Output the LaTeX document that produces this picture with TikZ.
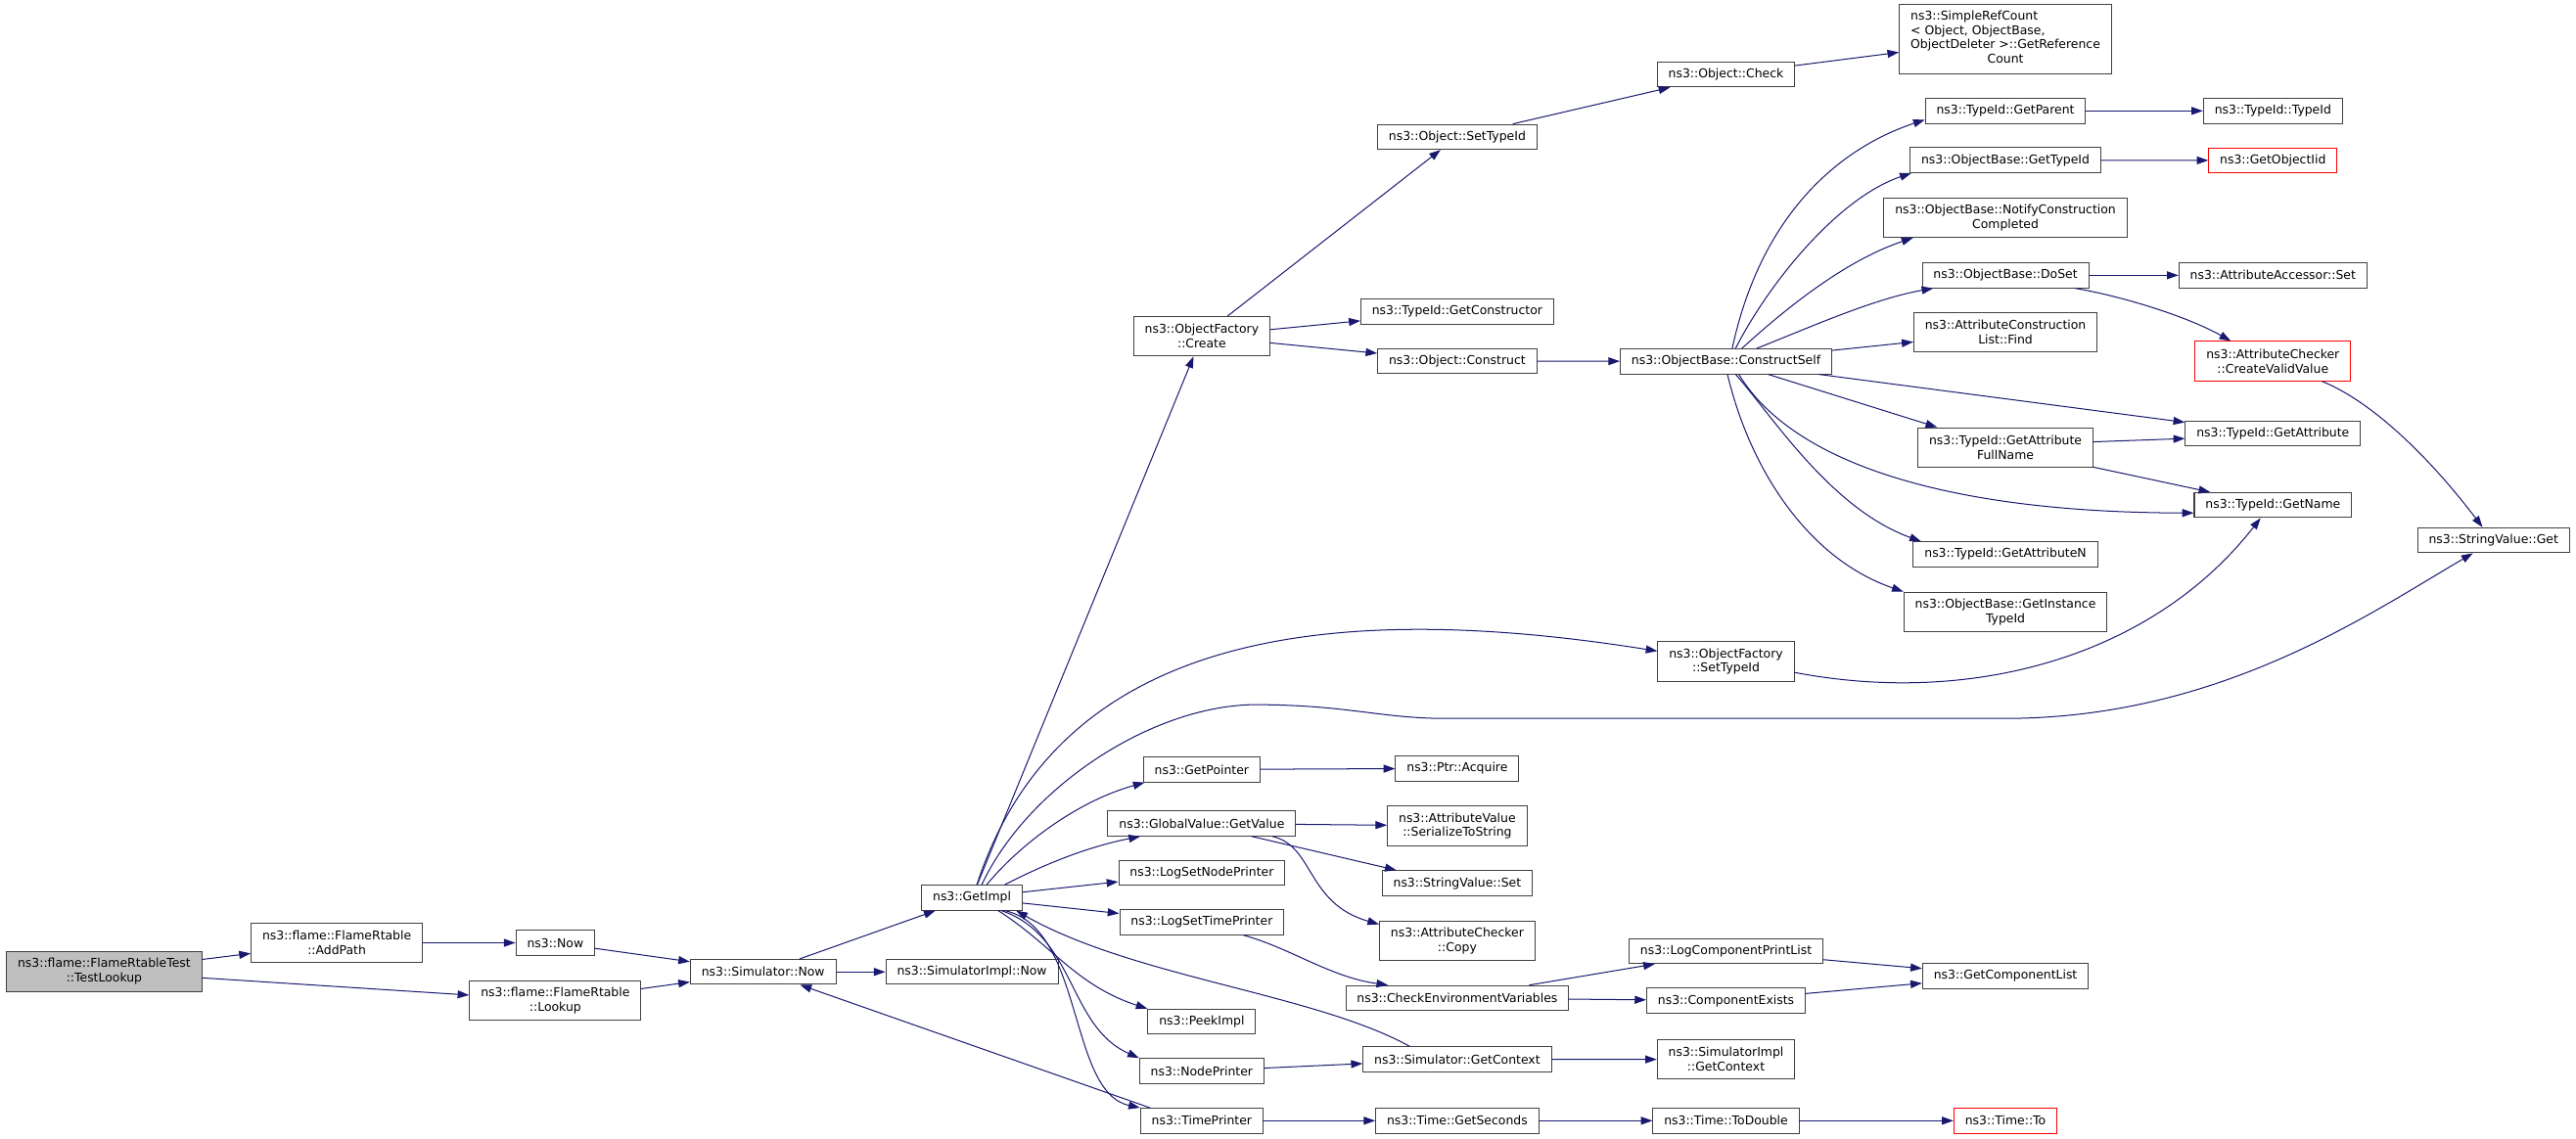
\documentclass[tikz,border=0pt]{standalone}
\usepackage{fontspec}
\setmainfont{DejaVu Sans}
\usetikzlibrary{arrows.meta}
\definecolor{edgeblue}{HTML}{191970}
\definecolor{boxgray}{HTML}{404040}
\definecolor{rootgray}{HTML}{BFBFBF}

\begin{document}
\begin{tikzpicture}[line cap=round,line join=round,>={Triangle[length=7pt,width=4.8pt]},x=1pt,y=1pt,
  fn/.style={draw=boxgray,fill=white,line width=0.6pt,line join=miter,inner xsep=6.8pt,inner ysep=3.5pt,minimum height=15.2pt,align=center,font=\fontsize{7.4}{8.8}\selectfont},
  tall/.style={minimum height=24pt},
  root/.style={fill=rootgray},
  missing/.style={draw=red},
  call/.style={->,draw=edgeblue,line width=0.6pt}]
\useasboundingbox (0,-693.4) rectangle (1568,0);
\node[fn,root,tall] (testlookup) at (63.4,-591.5) {ns3::flame::FlameRtableTest\\::TestLookup};
\node[fn,tall] (addpath) at (205,-574) {ns3::flame::FlameRtable\\::AddPath};
\node[fn] (now) at (338,-574) {ns3::Now};
\node[fn,tall] (lookup) at (338,-609.2) {ns3::flame::FlameRtable\\::Lookup};
\node[fn] (simnow) at (464.5,-591.7) {ns3::Simulator::Now};
\node[fn] (getimpl) at (591.6,-546.5) {ns3::GetImpl};
\node[fn] (simimplnow) at (591.6,-591.7) {ns3::SimulatorImpl::Now};
\node[fn,tall] (create) at (731.5,-204.7) {ns3::ObjectFactory\\::Create};
\node[fn] (getpointer) at (731.5,-468.5) {ns3::GetPointer};
\node[fn] (getvalue) at (731.5,-501.3) {ns3::GlobalValue::GetValue};
\node[fn] (setnodeprinter) at (731.5,-531.3) {ns3::LogSetNodePrinter};
\node[fn] (settimeprinter) at (731.5,-561.5) {ns3::LogSetTimePrinter};
\node[fn] (peekimpl) at (731.5,-622) {ns3::PeekImpl};
\node[fn] (nodeprinter) at (731.5,-652) {ns3::NodePrinter};
\node[fn] (timeprinter) at (731.5,-682.3) {ns3::TimePrinter};
\node[fn] (objsettypeid) at (887,-83.3) {ns3::Object::SetTypeId};
\node[fn] (getconstructor) at (887,-189.6) {ns3::TypeId::GetConstructor};
\node[fn] (construct) at (887,-219.8) {ns3::Object::Construct};
\node[fn] (acquire) at (887,-467.8) {ns3::Ptr::Acquire};
\node[fn,tall] (serialize) at (887,-502.8) {ns3::AttributeValue\\::SerializeToString};
\node[fn] (strset) at (887,-537.7) {ns3::StringValue::Set};
\node[fn,tall] (checkercopy) at (887,-572.7) {ns3::AttributeChecker\\::Copy};
\node[fn] (checkenv) at (887,-607.6) {ns3::CheckEnvironmentVariables};
\node[fn] (simgetcontext) at (887,-644.9) {ns3::Simulator::GetContext};
\node[fn] (getseconds) at (887,-682.3) {ns3::Time::GetSeconds};
\node[fn] (check) at (1050.6,-45.3) {ns3::Object::Check};
\node[fn] (constructself) at (1050.6,-220) {ns3::ObjectBase::ConstructSelf};
\node[fn,tall] (ofsettypeid) at (1050.6,-402.7) {ns3::ObjectFactory\\::SetTypeId};
\node[fn] (printlist) at (1050.6,-579) {ns3::LogComponentPrintList};
\node[fn] (compexists) at (1050.6,-609.2) {ns3::ComponentExists};
\node[fn,tall] (implgetcontext) at (1050.6,-645) {ns3::SimulatorImpl\\::GetContext};
\node[fn] (todouble) at (1050.6,-682.3) {ns3::Time::ToDouble};
\node[fn] (refcount) at (1220.7,-23.6) {\begin{tabular}{@{}l@{}}ns3::SimpleRefCount\\< Object, ObjectBase,\\\multicolumn{1}{@{}c@{}}{ObjectDeleter >::GetReference}\\\multicolumn{1}{@{}c@{}}{Count}\end{tabular}};
\node[fn] (getparent) at (1220.7,-67.5) {ns3::TypeId::GetParent};
\node[fn] (obgettypeid) at (1220.7,-97.5) {ns3::ObjectBase::GetTypeId};
\node[fn,tall] (notify) at (1220.7,-132.5) {ns3::ObjectBase::NotifyConstruction\\Completed};
\node[fn] (doset) at (1220.7,-167.6) {ns3::ObjectBase::DoSet};
\node[fn,tall] (listfind) at (1220.7,-202.4) {ns3::AttributeConstruction\\List::Find};
\node[fn,tall] (fullname) at (1220.7,-272.4) {ns3::TypeId::GetAttribute\\FullName};
\node[fn] (getattrn) at (1220.7,-337.5) {ns3::TypeId::GetAttributeN};
\node[fn,tall] (instancetypeid) at (1220.7,-372.5) {ns3::ObjectBase::GetInstance\\TypeId};
\node[fn] (complist) at (1220.7,-594.1) {ns3::GetComponentList};
\node[fn,missing] (timeto) at (1220.7,-682.3) {ns3::Time::To};
\node[fn] (typeidctor) at (1383.5,-67.5) {ns3::TypeId::TypeId};
\node[fn,missing] (objectiid) at (1383.5,-97.7) {ns3::GetObjectIid};
\node[fn] (accessorset) at (1383.5,-167.6) {ns3::AttributeAccessor::Set};
\node[fn,missing,tall] (validvalue) at (1383.5,-219.9) {ns3::AttributeChecker\\::CreateValidValue};
\node[fn] (getattribute) at (1383.5,-263.8) {ns3::TypeId::GetAttribute};
\node[fn] (getname) at (1383.5,-307.5) {ns3::TypeId::GetName};
\node[fn] (strget) at (1517.8,-328.9) {ns3::StringValue::Get};
\draw[call] (testlookup) -- (addpath);
\draw[call] (testlookup) -- (lookup);
\draw[call] (addpath) -- (now);
\draw[call] (now) -- (simnow);
\draw[call] (lookup) -- (simnow);
\draw[call] (simnow) -- (getimpl);
\draw[call] (simnow) -- (simimplnow);
\draw[call] (getimpl) -- (create);
\draw[call] ([xshift=3pt]getimpl.north) .. controls (640,-400) and (780,-360) .. ([yshift=6.3pt]ofsettypeid.west);
\draw[call] ([xshift=6pt]getimpl.north) .. controls (625,-480) and (700,-430) .. (763,-429) .. controls (820,-429) and (840,-437.4) .. (880,-437.4) -- (1220,-437.4) .. controls (1350,-437.4) and (1440,-375) .. ([xshift=-12.6pt]strget.south);
\draw[call] ([xshift=9pt]getimpl.north) .. controls (620,-515) and (655,-488) .. ([xshift=1pt]getpointer.south west);
\draw[call] ([xshift=20pt]getimpl.north) .. controls (640,-524) and (665,-515) .. ([xshift=20pt]getvalue.south west);
\draw[call] (getimpl) -- (setnodeprinter);
\draw[call] (getimpl) -- (settimeprinter);
\draw[call] ([xshift=16pt]getimpl.south) .. controls (640,-575) and (655,-600) .. (peekimpl.north west);
\draw[call] ([xshift=18pt]getimpl.south) .. controls (655,-570) and (650,-625) .. (nodeprinter.north west);
\draw[call] ([xshift=20pt]getimpl.south) .. controls (660,-565) and (650,-665) .. (timeprinter.north west);
\draw[call] ([xshift=-29pt]simgetcontext.north) .. controls (800,-605) and (690,-595) .. ([xshift=-4pt]getimpl.south east);
\draw[call] ([xshift=6pt]timeprinter.north west) -- (simnow);
\draw[call] (create) -- (objsettypeid);
\draw[call] (create) -- (getconstructor);
\draw[call] (create) -- (construct);
\draw[call] (objsettypeid) -- (check);
\draw[call] (check) -- (refcount);
\draw[call] (construct) -- (constructself);
\draw[call] ([xshift=3.8pt]constructself.north) .. controls (1072,-130) and (1120,-90) .. ([yshift=2.5pt]getparent.south west);
\draw[call] ([xshift=5.8pt]constructself.north) .. controls (1078,-170) and (1120,-120) .. ([xshift=1pt]obgettypeid.south west);
\draw[call] ([xshift=9.7pt]constructself.north) .. controls (1090,-185) and (1125,-158) .. ([xshift=18pt]notify.south west);
\draw[call] ([xshift=18.7pt]constructself.north) .. controls (1100,-200) and (1140,-182) .. ([xshift=7pt]doset.south west);
\draw[call] (constructself) -- (listfind);
\draw[call] ([xshift=-8.2pt]constructself.south east) -- ([yshift=-1.2pt]getattribute.north west);
\draw[call] ([xshift=25.6pt]constructself.south) -- ([xshift=12pt]fullname.north west);
\draw[call] ([xshift=7.8pt]constructself.south) .. controls (1090,-280) and (1180,-312) .. ([yshift=-4.8pt]getname.west);
\draw[call] ([xshift=5.9pt]constructself.south) .. controls (1080,-255) and (1115,-310) .. ([xshift=5pt]getattrn.north west);
\draw[call] ([xshift=0.9pt]constructself.south) .. controls (1065,-285) and (1100,-340) .. (instancetypeid.north west);
\draw[call] (getparent) -- (typeidctor);
\draw[call] (obgettypeid) -- (objectiid);
\draw[call] (doset) -- (accessorset);
\draw[call] ([xshift=-8.7pt]doset.south east) .. controls (1290,-180) and (1330,-192) .. ([xshift=22pt]validvalue.north west);
\draw[call] ([xshift=30pt]validvalue.south) .. controls (1445,-245) and (1480,-280) .. ([xshift=-6.7pt]strget.north);
\draw[call] ([yshift=3.4pt]fullname.east) -- ([yshift=-3.2pt]getattribute.west);
\draw[call] ([yshift=0.3pt]fullname.south east) -- ([xshift=10pt]getname.north west);
\draw[call] ([yshift=-6.7pt]ofsettypeid.east) .. controls (1200,-430) and (1310,-400) .. ([xshift=-7.5pt]getname.south);
\draw[call] (getpointer) -- (acquire);
\draw[call] (getvalue) -- (serialize);
\draw[call] ([xshift=30.4pt]getvalue.south) -- ([xshift=9pt]strset.north west);
\draw[call] ([xshift=43pt]getvalue.south) .. controls (800,-515) and (795,-550) .. ([yshift=-2.3pt]checkercopy.north west);
\draw[call] ([xshift=25.5pt]settimeprinter.south) .. controls (785,-577) and (810,-595) .. ([xshift=26pt]checkenv.north west);
\draw[call] ([xshift=44pt]checkenv.north) -- ([xshift=16pt]printlist.south west);
\draw[call] (checkenv) -- (compexists);
\draw[call] (printlist) -- (complist);
\draw[call] (compexists) -- (complist);
\draw[call] (nodeprinter) -- (simgetcontext);
\draw[call] (simgetcontext) -- (implgetcontext);
\draw[call] (timeprinter) -- (getseconds);
\draw[call] (getseconds) -- (todouble);
\draw[call] (todouble) -- (timeto);
\end{tikzpicture}
\end{document}
